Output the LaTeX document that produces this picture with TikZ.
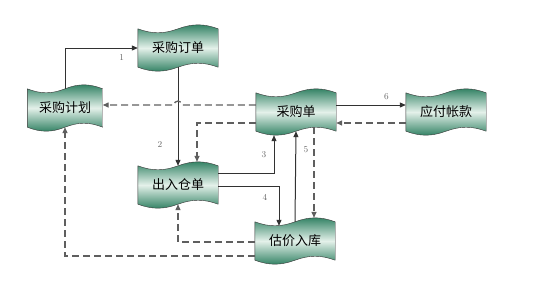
\documentclass[tikz,border=0pt]{standalone}
\usepackage{fontspec}
\newfontfamily\cjk{Noto Sans CJK SC}
\usetikzlibrary{arrows.meta,calc}
\pgfdeclarelayer{bg}
\pgfsetlayers{bg,main}
\definecolor{tapegreen}{RGB}{44,126,95}
\definecolor{tapelight}{RGB}{228,241,234}
\definecolor{linegray}{RGB}{50,50,50}
\definecolor{dashgray}{RGB}{95,95,95}
\tikzset{
  doc/.style={rectangle, minimum width=80pt, minimum height=38pt, inner sep=0pt,
    font=\cjk\fontsize{13}{15}\selectfont},
  docfill/.style={top color=tapegreen, bottom color=tapegreen, middle color=tapelight,
    draw=black!80, thin},
  flow/.style={draw=linegray, line width=1pt, -{Triangle[length=6pt,width=5pt]}},
  back/.style={draw=dashgray, line width=1.3pt, dash pattern=on 7pt off 4pt,
    -{Triangle[length=6pt,width=5pt]}},
  num/.style={font=\fontsize{9}{10}\selectfont, text=black!60}
}
% wavy document outline round a doc node
\newcommand\docshape[1]{%
  \path [docfill] (#1.north west)
    .. controls ($(#1.north west)!0.18!(#1.north east)+(0,5.3)$)
    and ($(#1.north west)!0.32!(#1.north east)+(0,5.3)$) .. (#1.north)
    .. controls ($(#1.north west)!0.68!(#1.north east)+(0,-5.3)$)
    and ($(#1.north west)!0.82!(#1.north east)+(0,-5.3)$) .. (#1.north east)
    -- (#1.south east)
    .. controls ($(#1.south west)!0.82!(#1.south east)+(0,-5.3)$)
    and ($(#1.south west)!0.68!(#1.south east)+(0,-5.3)$) .. (#1.south)
    .. controls ($(#1.south west)!0.32!(#1.south east)+(0,5.3)$)
    and ($(#1.south west)!0.18!(#1.south east)+(0,5.3)$) .. (#1.south west)
    -- cycle;}
\begin{document}
\begin{tikzpicture}[x=1pt, y=-1pt]
	\useasboundingbox (0,0) rectangle (555,285);
	% documents
	\node [doc, minimum width=75pt] (plan) at (65,108) {采购计划};
	\node [doc] (order) at (178,48) {采购订单};
	\node [doc] (purchase) at (296,112) {采购单};
	\node [doc] (payable) at (446,112) {应付帐款};
	\node [doc] (inout) at (178,185) {出入仓单};
	\node [doc] (estimate) at (295,241) {估价入库};
	\begin{pgfonlayer}{bg}
		\foreach \n in {plan,order,purchase,payable,inout,estimate} {\docshape{\n}}
	\end{pgfonlayer}
	% flows
	\draw [flow] (plan.north) |- (order.west) node [num, pos=0.89, below=3pt] {1};
	\draw [flow] (order.south) -- (inout.north) node [num, pos=0.78, left=12pt] {2};
	\coordinate (hop) at (order.south |- 0,105);
	\draw [back] (purchase.west |- hop) -- ([xshift=4pt]hop)
		arc [start angle=0, end angle=180, radius=4pt] -- (plan.east |- hop);
	\draw [back] (purchase.west |- 0,123) -| ([xshift=19pt,yshift=4pt]inout.north);
	\draw [flow] (inout.east |- 0,173) -| ([xshift=-22pt,yshift=-4pt]purchase.south) node [num, pos=0.75, left=4pt] {3};
	\draw [flow] (inout.east |- 0,186) -| ([xshift=-16pt,yshift=-4pt]estimate.north) node [num, pos=0.65, left=8pt] {4};
	\draw [flow] (estimate.north) -- (purchase.south) node [num, pos=0.8, right=4pt] {5};
	\draw [back] ([xshift=18pt,yshift=4pt]purchase.south) -- ([xshift=19pt,yshift=4pt]estimate.north);
	\draw [flow] (purchase.east |- 0,105) -- (payable.west |- 0,105) node [num, pos=0.72, above=1pt] {6};
	\draw [back] (payable.west |- 0,123) -- (purchase.east |- 0,123);
	\draw [back] (estimate.west |- 0,242) -| (inout.south);
	\draw [back] (estimate.west |- 0,256) -| (plan.south);
\end{tikzpicture}
\end{document}
